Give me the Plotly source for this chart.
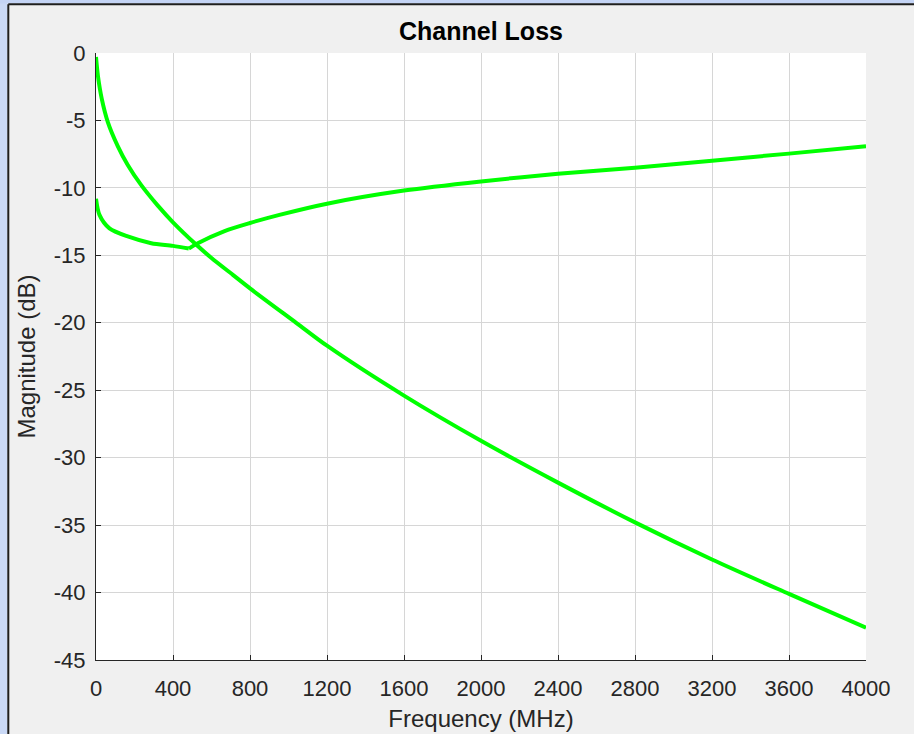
import plotly.graph_objects as go

# Insertion loss curve (frequency in MHz, magnitude in dB)
il_freq = [0, 10, 30, 61, 113, 165, 235, 320, 400, 520, 600, 711, 800, 1040, 1200,
           1600, 2000, 2400, 2800, 3200, 3600, 4000]
il_mag = [-0.3, -1.7, -3.4, -5.1, -6.9, -8.3, -9.8, -11.3, -12.55, -14.2, -15.2, -16.45,
          -17.45, -20.0, -21.7, -25.4, -28.75, -31.85, -34.8, -37.55, -40.1, -42.6]

# Return loss curve (frequency in MHz, magnitude in dB); sharp corner at index 6
rl_freq = [0, 18, 70, 165, 287, 400, 482, 529, 668, 800, 953, 1200, 1600, 2000,
           2400, 2800, 3200, 3600, 4000]
rl_mag = [-10.8, -12.0, -13.0, -13.6, -14.1, -14.3, -14.5, -14.1, -13.2, -12.6,
          -12.0, -11.17, -10.2, -9.52, -8.95, -8.5, -7.98, -7.46, -6.92]
rl_corner = 6

x_ticks = [0, 400, 800, 1200, 1600, 2000, 2400, 2800, 3200, 3600, 4000]
x_ticklabels = ["0", "400", "800", "1200", "1600", "2000", "2400", "2800", "3200", "3600", "4000"]
y_ticks = [0, -5, -10, -15, -20, -25, -30, -35, -40, -45]
y_ticklabels = ["0", "-5", "-10", "-15", "-20", "-25", "-30", "-35", "-40", "-45"]

W, H = 914, 734
ML, MR, MT, MB = 96, 48, 53, 74
PW, PH = W - ML - MR, H - MT - MB

FONT = "Liberation Sans, Arial, Helvetica, sans-serif"
GREEN = "#00ff00"
AXC = "#262626"


def xp(px):
    return (px - ML) / PW


def yp(py):
    return (H - MB - py) / PH


fig = go.Figure()
line = dict(color=GREEN, width=4, shape="spline", smoothing=0.8)
fig.add_trace(go.Scatter(x=il_freq, y=il_mag, mode="lines", line=line,
                         showlegend=False, name="Insertion loss"))
fig.add_trace(go.Scatter(x=rl_freq[:rl_corner + 1], y=rl_mag[:rl_corner + 1], mode="lines",
                         line=line, showlegend=False, name="Return loss"))
fig.add_trace(go.Scatter(x=rl_freq[rl_corner:], y=rl_mag[rl_corner:], mode="lines",
                         line=line, showlegend=False, name="Return loss"))

# window frame along the left and top edges
shapes = [
    dict(type="rect", xref="paper", yref="paper", x0=xp(0), x1=xp(7.5), y0=yp(H), y1=yp(0),
         fillcolor="#cad9f6", line=dict(width=0), layer="above"),
    dict(type="rect", xref="paper", yref="paper", x0=xp(0), x1=xp(W), y0=yp(3.5), y1=yp(0),
         fillcolor="#c4d4f5", line=dict(width=0), layer="above"),
    dict(type="line", xref="paper", yref="paper", x0=xp(8.3), x1=xp(8.3), y0=yp(H), y1=yp(4.2),
         line=dict(color="#1e1e1e", width=2), layer="above"),
    dict(type="line", xref="paper", yref="paper", x0=xp(8.3), x1=xp(W), y0=yp(4.2), y1=yp(4.2),
         line=dict(color="#1e1e1e", width=2), layer="above"),
]

axis_common = dict(
    showline=True, linecolor=AXC, linewidth=1, mirror=False,
    ticks="inside", ticklen=5, tickwidth=1, tickcolor=AXC,
    showgrid=True, gridcolor="#d6d6d6", gridwidth=1, zeroline=False,
    tickfont=dict(family=FONT, size=22, color=AXC),
)

fig.update_layout(
    width=W, height=H,
    margin=dict(l=ML, r=MR, t=MT, b=MB, autoexpand=False),
    paper_bgcolor="#f0f0f0", plot_bgcolor="white",
    title=dict(text="<b>Channel Loss</b>", x=0.5, xref="paper", xanchor="center",
               y=1 - 31 / H, yref="container", yanchor="middle",
               font=dict(family=FONT, size=25, color="black")),
    xaxis=dict(range=[0, 4000], tickvals=x_ticks, ticktext=x_ticklabels,
               ticklabelstandoff=9,
               title=dict(text="Frequency (MHz)", standoff=9,
                          font=dict(family=FONT, size=24, color=AXC)),
               **axis_common),
    yaxis=dict(range=[-45, 0], tickvals=y_ticks, ticktext=y_ticklabels,
               ticklabelstandoff=5,
               title=dict(text="Magnitude (dB)", standoff=11,
                          font=dict(family=FONT, size=24, color=AXC)),
               **axis_common),
    shapes=shapes,
)

fig.write_html("out.html")
